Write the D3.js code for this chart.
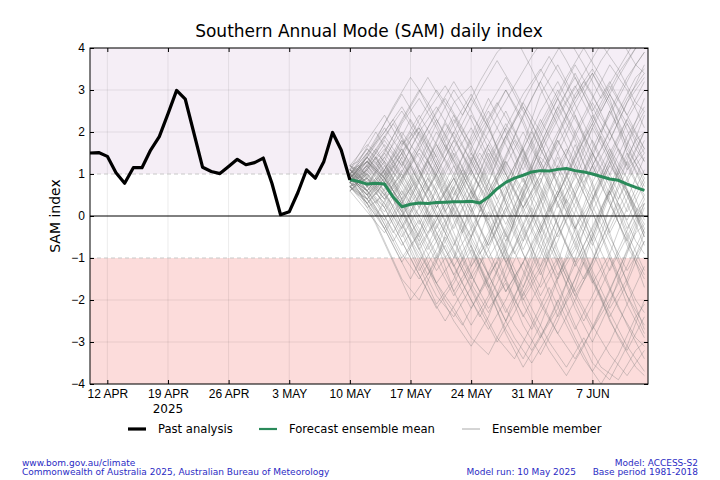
<!DOCTYPE html>
<html>
<head>
<meta charset="utf-8">
<script src="https://cdn.jsdelivr.net/npm/d3@7"></script>
<style>
  body { margin: 0; background: #fff; }
  svg { font-family: "DejaVu Sans", sans-serif; }
  .tick text { font-size: 12px; fill: #000; }
  .foot { font-size: 9px; fill: #2b2bc4; }
</style>
</head>
<body>
<div id="chart"></div>
<script>
const width = 720;
const height = 480;
const margin = { top: 48, right: 72, bottom: 96, left: 90 };

// daily past analysis, 10 Apr - 10 May 2025
const pastStart = new Date(2025, 3, 10);
const pastValues = [
  1.50, 1.51, 1.42, 1.03, 0.78, 1.15, 1.15, 1.57, 1.89, 2.43,
  2.99, 2.78, 1.97, 1.16, 1.06, 1.01, 1.18, 1.35, 1.22, 1.27,
  1.38, 0.78, 0.03, 0.10, 0.56, 1.10, 0.90, 1.30, 1.99, 1.57, 0.86
];

// daily ensemble mean, 10 May - 13 Jun 2025
const runDate = new Date(2025, 4, 10);
const meanValues = [
  0.87, 0.82, 0.76, 0.78, 0.76, 0.45, 0.22, 0.28, 0.31, 0.30,
  0.32, 0.33, 0.34, 0.34, 0.35, 0.31, 0.45, 0.65, 0.80, 0.90,
  0.97, 1.05, 1.08, 1.07, 1.11, 1.13, 1.08, 1.05, 1.00, 0.94,
  0.88, 0.85, 0.76, 0.68, 0.61
];

// ensemble members, read roughly: days after the run date for each group
const evenDays = [0, 2, 4, 6, 8, 10, 12, 14, 16, 18, 20, 22, 24, 26, 28, 30, 32, 34];
const oddDays = [0, 1, 3, 5, 7, 9, 11, 13, 15, 17, 19, 21, 23, 25, 27, 29, 31, 33, 34];

const membersEven = [
  [0.9, 1.4, 2.1, 1.5, 0.6, -0.4, -1.2, -0.5, 0.8, 1.9, 2.6, 1.8, 0.7, -0.3, 0.4, 1.5, 2.3, 1.6],
  [0.8, 0.3, -0.6, -1.5, -2.0, -1.1, 0.2, 1.0, 0.4, -0.8, -2.1, -2.9, -2.2, -1.0, 0.3, 1.2, 0.6, -0.5],
  [1.0, 1.6, 1.2, 0.4, 0.9, 1.8, 2.7, 3.1, 2.2, 1.0, 0.1, 0.8, 1.9, 2.9, 3.5, 2.8, 1.6, 0.9],
  [0.7, 0.2, 0.5, 1.3, 0.6, -0.6, -1.8, -2.6, -1.9, -0.7, 0.5, 1.4, 0.9, -0.2, -1.4, -2.5, -3.2, -2.4],
  [1.1, 1.8, 2.4, 1.7, 2.1, 1.2, 0.3, -0.6, -1.4, -0.8, 0.6, 1.9, 2.8, 3.6, 2.9, 2.0, 1.1, 1.6],
  [0.9, 0.5, -0.2, -1.0, -0.4, 0.7, 1.5, 0.8, -0.3, -1.5, -2.4, -1.6, -0.2, 1.0, 2.1, 2.9, 2.2, 1.3],
  [0.6, 1.0, 0.6, 1.2, 2.0, 2.6, 1.9, 1.0, 1.7, 2.5, 1.6, 0.4, -0.8, -1.8, -1.1, 0.2, 1.3, 2.4],
  [1.2, 0.7, 1.3, 0.4, -0.6, -1.6, -1.0, 0.3, 1.4, 2.2, 1.5, 0.2, -1.1, -2.2, -3.0, -2.1, -0.9, 0.2],
  [0.8, 1.3, 0.9, -0.1, -1.1, -1.9, -2.4, -1.7, -0.6, 0.6, 1.6, 2.5, 3.2, 2.4, 1.3, 0.4, -0.7, -1.5],
  [1.0, 0.4, 1.0, 1.8, 1.1, 0.2, 0.9, 1.9, 2.8, 2.0, 0.9, -0.2, 0.6, 1.7, 0.8, -0.4, -1.6, -2.7],
  [0.7, 1.2, 1.9, 2.5, 1.8, 0.9, 0.1, -0.9, -1.8, -2.7, -3.4, -2.6, -1.5, -0.3, 0.8, 1.6, 0.9, -0.1],
  [0.9, 0.6, 0.1, 0.8, 1.6, 1.0, -0.1, -1.2, -0.6, 0.5, 1.7, 2.9, 3.6, 2.8, 3.4, 2.6, 1.5, 0.6],
  [1.1, 0.8, 0.3, -0.5, 0.2, 1.1, 2.0, 2.8, 2.1, 1.2, 0.4, -0.5, -1.6, -2.6, -3.5, -3.9, -3.1, -2.0],
  [0.8, 1.5, 1.0, 0.2, -0.7, -0.1, 0.7, -0.3, -1.4, -2.3, -1.5, -0.4, 0.9, 2.0, 2.8, 3.6, 3.0, 2.1],
  [1.0, 0.6, 1.1, 0.5, 1.3, 2.2, 3.0, 2.3, 1.4, 0.3, -0.8, 0.1, 1.2, 0.4, -0.6, 0.5, 1.7, 2.8],
  [0.6, 0.1, -0.4, 0.3, -0.5, -1.3, -0.7, 0.5, 1.6, 0.9, -0.2, -1.3, -2.4, -1.7, -0.5, 0.6, -0.4, -1.3],
  [1.2, 1.7, 1.3, 2.2, 2.8, 2.1, 1.2, 0.2, -0.7, 0.2, 1.3, 2.3, 1.5, 0.5, 1.4, 2.5, 3.3, 3.9],
  [0.9, 0.3, 0.8, 0.1, -0.8, -1.7, -2.5, -3.1, -2.4, -1.3, -0.2, 0.8, 1.8, 1.0, 0.1, -1.0, -2.1, -2.9],
  [0.7, 1.1, 1.6, 1.0, 0.3, 1.0, 1.8, 1.1, 0.2, -0.9, -1.9, -1.2, 0.0, 1.1, 0.4, 1.3, 2.2, 1.5],
  [1.0, 0.5, -0.1, -0.9, -1.5, -0.8, 0.3, 1.3, 2.3, 3.0, 2.3, 1.3, 0.3, -0.7, -1.6, -0.9, 0.2, 1.1],
  [0.8, 1.2, 0.7, 1.4, 0.5, -0.3, 0.5, 1.4, 0.6, -0.5, 0.5, 1.7, 2.6, 1.8, 0.7, -0.4, 0.4, 1.4],
  [1.1, 0.7, 1.4, 2.0, 1.4, 0.6, -0.4, -1.4, -2.2, -1.6, -2.6, -3.3, -2.5, -1.5, -0.4, 0.7, 1.7, 2.5],
  [0.9, 1.4, 0.8, 0.0, 0.6, 1.5, 2.3, 1.6, 0.6, 1.4, 2.4, 3.2, 2.4, 1.5, 0.5, -0.5, -1.3, -0.6],
  [0.7, 0.4, 0.9, 0.3, -0.5, 0.3, -0.6, -1.5, -0.8, 0.2, -0.9, -1.9, -1.1, 0.1, 1.2, 2.0, 2.8, 3.4],
  [1.0, 1.5, 2.2, 2.9, 2.2, 1.4, 2.2, 2.9, 2.1, 1.1, 0.2, 0.9, -0.2, -1.2, -0.5, 0.6, -0.5, -1.7],
  [0.8, 0.4, -0.3, 0.4, 1.2, 0.6, -0.3, 0.6, 1.5, 0.7, -0.4, -1.4, -0.6, 0.5, 1.5, 0.8, -0.3, 0.5],
  [1.2, 0.9, 0.4, 1.1, 0.3, -0.5, -1.4, -0.7, -1.6, -2.5, -1.7, -0.6, 0.5, 1.5, 2.4, 1.6, 0.6, -0.4],
  [0.9, 1.3, 0.8, 1.5, 2.3, 3.0, 2.4, 1.5, 0.7, -0.2, 0.7, 1.6, 2.5, 3.4, 2.6, 1.8, 2.7, 3.6],
  [0.6, 0.9, 0.5, -0.3, -1.2, -2.1, -1.5, -0.5, 0.4, 1.3, 0.6, -0.4, -1.4, -0.7, 0.4, 1.3, 0.5, -0.5],
  [1.0, 0.6, 1.2, 0.6, -0.2, 0.6, 1.4, 2.1, 1.3, 0.3, -0.6, 0.4, 1.4, 0.5, -0.6, -1.7, -2.6, -3.4],
  [0.8, 1.1, 1.7, 1.2, 2.0, 1.3, 0.5, 1.3, 2.2, 3.0, 2.2, 1.2, 0.2, 0.9, 1.8, 1.0, 0.1, 0.9],
  [1.1, 0.6, 0.0, -0.7, -0.1, -0.9, -1.8, -1.1, 0.1, -0.8, -1.7, -0.8, 0.3, 1.2, 2.1, 1.3, 0.3, -0.7],
  [0.9, 1.4, 0.9, 0.3, 1.1, 0.3, 0.9, -0.1, -1.0, -0.3, 0.7, 1.6, 0.8, -0.3, -1.3, -2.2, -1.5, -0.4],
  [0.7, 0.3, 0.8, 1.5, 0.8, 1.6, 2.4, 1.7, 2.5, 1.7, 0.8, 1.7, 2.6, 3.3, 2.5, 3.2, 2.4, 1.6],
  [1.0, 1.3, 0.7, 0.1, -0.6, 0.2, 1.0, 0.2, -0.8, -1.8, -1.1, -2.0, -2.8, -3.4, -2.7, -1.8, -0.8, 0.3],
  [0.8, 0.5, 1.1, 1.7, 2.4, 1.7, 0.9, 0.1, 0.8, 1.8, 2.7, 2.0, 1.1, 0.2, -0.7, 0.2, 1.1, 2.0],
  [0.9, 1.2, 0.6, -0.2, -0.9, -1.6, -2.2, -2.9, -3.3, -2.5, -1.4, -0.3, 0.6, -0.4, -1.5, -2.4, -1.6, -0.6],
  [1.0, 0.7, 1.5, 2.3, 3.0, 2.2, 1.3, 0.4, 1.2, 2.1, 2.9, 3.5, 2.8, 1.9, 1.0, 1.8, 2.7, 3.3],
  [0.8, 1.1, 0.5, 1.0, 0.2, -0.6, 0.2, -0.7, -1.7, -2.8, -3.6, -2.9, -2.0, -2.9, -3.7, -3.0, -2.1, -1.2],
  [1.1, 1.6, 1.1, 1.8, 1.2, 2.0, 1.3, 0.6, -0.1, 0.7, -0.3, -1.2, -0.4, 0.6, 1.6, 2.5, 1.7, 0.8],
  [0.7, 0.4, -0.1, 0.6, 0.0, 0.8, 1.6, 2.4, 1.8, 1.0, 0.2, -0.7, -1.5, -0.8, 0.1, -0.9, -1.9, -2.8],
  [0.9, 1.3, 1.9, 1.3, 0.5, -0.2, -1.0, -0.3, 0.5, -0.4, -1.3, -2.1, -2.8, -2.0, -1.1, -0.1, 0.9, 1.8],
  [1.0, 0.5, 0.9, 0.3, 1.0, 1.7, 1.0, 1.8, 2.6, 3.3, 2.5, 1.6, 2.4, 3.1, 2.3, 1.4, 0.5, -0.4],
  [0.8, 1.0, 0.4, -0.4, -1.3, -0.6, -1.4, -2.2, -1.5, -0.6, 0.4, 1.3, 0.5, 1.4, 2.3, 3.1, 2.4, 3.2],
  [1.2, 0.8, 1.3, 0.8, 0.2, 1.0, 0.3, -0.5, 0.4, 1.2, 2.0, 1.2, 0.3, -0.6, -1.5, -2.3, -3.1, -3.7],
  [0.6, 1.0, 1.5, 0.9, 1.6, 2.3, 1.6, 0.7, -0.2, -1.1, -0.4, 0.5, 1.5, 2.4, 1.5, 0.5, 1.3, 0.4],
  [0.9, 0.6, 0.2, -0.6, -1.4, -2.2, -1.6, -0.8, -1.7, -0.9, 0.1, -0.8, -1.8, -2.7, -1.9, -1.0, -1.9, -2.6],
  [1.0, 1.4, 0.9, 1.6, 0.8, 0.1, -0.7, 0.1, 1.0, 1.9, 1.1, 2.0, 2.8, 2.0, 1.2, 0.3, -0.6, 0.3],
  [0.7, 0.9, 1.4, 0.7, -0.1, -1.0, -0.2, 0.6, -0.2, -1.1, -2.0, -1.3, -0.4, 0.5, -0.4, -1.3, -0.5, 0.4],
  [1.1, 0.7, 0.2, 0.9, 1.7, 2.5, 3.2, 2.5, 1.6, 0.8, 1.6, 0.7, -0.2, -1.1, -0.3, 0.6, 1.5, 0.7],
  [0.8, 1.3, 0.8, 0.1, 0.8, 0.0, -0.8, -1.6, -2.3, -1.5, -0.6, 0.3, 1.1, 1.9, 2.7, 2.0, 1.2, 2.0],
  [0.9, 0.5, 1.0, 1.6, 0.9, 0.2, 0.9, 0.1, -0.7, 0.1, 0.9, 0.1, -0.9, -1.8, -2.6, -3.3, -3.8, -3.2],
  [1.0, 1.5, 2.0, 2.6, 1.9, 1.1, 0.3, 1.1, 0.3, -0.6, 0.2, 1.0, 1.8, 1.0, 0.1, 1.0, 1.9, 2.6],
  [0.7, 0.3, -0.3, -1.1, -0.4, 0.4, 1.2, 0.4, 1.3, 2.1, 1.3, 0.4, -0.5, 0.3, 1.2, 0.3, -0.6, -1.4],
  [1.2, 1.0, 0.5, 0.0, -0.8, -0.1, 0.7, 1.5, 0.8, 0.0, -0.9, -1.7, -1.0, -1.9, -2.7, -2.0, -1.2, -0.3],
  [0.8, 1.2, 1.8, 1.2, 0.4, 1.2, 2.0, 1.3, 0.5, 1.3, 0.5, -0.4, 0.5, 1.4, 2.2, 1.4, 2.3, 3.0],
  [0.9, 0.6, 1.1, 0.4, -0.3, -1.1, -1.9, -1.2, -0.4, 0.5, 1.4, 2.2, 3.0, 2.3, 1.5, 0.7, -0.1, 0.8],
  [1.0, 1.3, 0.9, 1.5, 2.1, 1.4, 0.6, -0.2, -1.0, -1.8, -1.1, -0.2, -1.0, -1.9, -1.2, -0.3, 0.6, -0.3],
  [0.7, 0.9, 0.4, 0.9, 1.5, 0.8, 0.0, 0.8, 1.7, 1.0, 0.2, 1.0, 1.9, 2.7, 3.4, 2.7, 1.8, 1.0],
  [1.1, 0.8, 0.3, -0.3, 0.4, -0.4, -1.2, -2.0, -2.7, -2.0, -1.1, -0.3, 0.5, -0.3, 0.6, 1.4, 0.6, -0.2]
];

const membersOdd = [
  [0.9, 1.1, 1.8, 2.6, 3.3, 2.7, 1.9, 1.0, 0.2, 1.0, 1.9, 2.8, 3.6, 4.3, 3.6, 2.8, 3.5, 4.2, 4.0],
  [0.8, 0.6, -0.2, -1.1, -2.0, -1.4, -0.5, -1.3, -2.2, -3.0, -2.3, -1.4, -0.5, 0.4, -0.4, -1.3, -2.2, -2.9, -3.1],
  [1.0, 0.9, 0.3, 1.0, 1.8, 2.5, 3.1, 2.4, 3.2, 3.9, 4.3, 3.5, 2.6, 1.7, 0.8, 1.6, 2.5, 3.3, 3.5],
  [0.7, 0.8, 1.4, 0.6, -0.3, -1.2, -2.0, -2.6, -1.8, -0.9, 0.1, 1.0, 1.9, 2.7, 3.4, 4.1, 3.5, 2.7, 2.5],
  [1.1, 1.0, 0.4, -0.4, 0.4, 1.3, 0.6, -0.3, -1.2, -2.1, -2.9, -3.5, -2.8, -1.9, -1.1, -2.0, -2.9, -3.6, -3.8],
  [0.9, 1.1, 1.7, 2.3, 1.5, 0.6, 1.4, 2.2, 3.0, 3.7, 3.0, 2.2, 1.3, 2.1, 2.9, 3.7, 4.3, 3.6, 3.4],
  [0.8, 0.7, 0.1, -0.7, -1.5, -0.7, 0.2, 1.1, 0.3, -0.6, -1.5, -2.4, -3.2, -3.8, -3.1, -2.2, -1.3, -0.4, -0.2],
  [1.2, 1.3, 2.0, 1.3, 0.5, 1.3, 2.2, 1.5, 0.7, 1.5, 2.3, 3.1, 3.8, 3.1, 2.2, 1.3, 0.4, 1.2, 1.5],
  [0.7, 0.5, 0.9, 0.2, -0.6, -1.4, -0.7, -1.6, -2.4, -1.6, -0.7, 0.2, -0.7, -1.6, -2.5, -1.7, -0.8, 0.1, 0.3],
  [1.0, 1.2, 0.7, 1.5, 2.3, 1.6, 0.8, -0.1, -0.9, -0.1, 0.8, 1.7, 2.5, 3.3, 4.0, 3.3, 2.5, 1.6, 1.3],
  [0.9, 0.8, 1.3, 0.5, 1.2, 0.4, -0.4, -1.3, -2.1, -2.9, -3.4, -2.6, -1.7, -2.6, -3.4, -4.0, -3.3, -2.4, -2.1],
  [0.8, 1.0, 0.5, 1.2, 0.4, -0.4, 0.4, 1.2, 2.0, 2.7, 2.0, 1.1, 0.2, -0.7, -1.5, -0.6, 0.3, -0.6, -0.9],
  [1.1, 0.9, 0.2, -0.6, 0.1, 0.9, 1.7, 1.0, 0.1, 0.9, 1.8, 1.0, 0.1, 0.9, 1.8, 2.6, 3.4, 4.0, 4.2],
  [0.6, 0.8, 1.5, 2.2, 1.5, 0.7, -0.1, -1.0, -1.8, -1.1, -2.0, -2.7, -1.9, -1.0, -0.1, 0.8, 1.6, 0.8, 0.5],
  [1.0, 0.7, 1.2, 1.9, 2.6, 3.3, 2.6, 1.7, 0.9, 0.0, -0.9, -0.1, 0.8, 1.6, 0.7, -0.2, -1.1, -2.0, -2.3],
  [0.9, 1.1, 0.6, -0.2, -1.0, -1.8, -2.5, -1.8, -1.0, -1.8, -2.6, -3.2, -2.5, -1.6, -0.7, 0.2, 1.0, 1.8, 2.0],
  [0.8, 0.9, 1.6, 0.9, 0.1, 0.9, 0.1, 0.8, 1.6, 2.4, 3.1, 3.8, 4.4, 3.7, 2.9, 2.0, 2.8, 3.6, 3.9],
  [1.1, 1.2, 0.6, 1.3, 2.0, 1.3, 0.4, -0.4, 0.4, -0.5, -1.4, -2.2, -3.0, -3.6, -2.9, -3.6, -3.9, -3.2, -3.0],
  [0.7, 0.6, 0.0, 0.7, 1.4, 2.1, 2.8, 2.1, 1.3, 0.4, 1.2, 2.0, 1.2, 0.3, 1.1, 1.9, 1.1, 0.2, 0.0],
  [1.0, 0.9, 1.4, 0.7, 0.0, -0.8, -0.1, 0.7, 1.5, 0.8, 0.0, 0.8, 1.6, 2.4, 3.2, 2.5, 3.3, 4.0, 4.1]
];

const xTicks = [
  new Date(2025, 3, 12), new Date(2025, 3, 19), new Date(2025, 3, 26),
  new Date(2025, 4, 3), new Date(2025, 4, 10), new Date(2025, 4, 17),
  new Date(2025, 4, 24), new Date(2025, 4, 31), new Date(2025, 5, 7)
];
const yTicks = [-4, -3, -2, -1, 0, 1, 2, 3, 4];

const addDays = (d, n) => new Date(d.getFullYear(), d.getMonth(), d.getDate() + n);
const fmtTick = d3.timeFormat("%-d %b");
const minus = (v) => (v < 0 ? "\u2212" + Math.abs(v) : String(v));

const x = d3.scaleTime()
  .domain([pastStart, new Date(2025, 5, 13, 10)])
  .range([margin.left, width - margin.right]);
const y = d3.scaleLinear()
  .domain([-4, 4])
  .range([height - margin.bottom, margin.top]);

const svg = d3.select("#chart").append("svg")
  .attr("width", width)
  .attr("height", height);

svg.append("defs").append("clipPath").attr("id", "plot-clip")
  .append("rect")
  .attr("x", margin.left).attr("y", margin.top)
  .attr("width", width - margin.left - margin.right)
  .attr("height", height - margin.top - margin.bottom);

// shaded bands above +1 and below -1
svg.append("rect")
  .attr("x", margin.left).attr("width", width - margin.left - margin.right)
  .attr("y", y(4)).attr("height", y(1) - y(4))
  .attr("fill", "#f5eef6");
svg.append("rect")
  .attr("x", margin.left).attr("width", width - margin.left - margin.right)
  .attr("y", y(-1)).attr("height", y(-4) - y(-1))
  .attr("fill", "#fcdcdb");

// grid
const grid = svg.append("g").attr("stroke", "#000").attr("stroke-opacity", 0.08).attr("stroke-width", 1);
grid.selectAll(".vg").data(xTicks).join("line")
  .attr("x1", (d) => x(d)).attr("x2", (d) => x(d))
  .attr("y1", y(4)).attr("y2", y(-4));
grid.selectAll(".hg").data(yTicks.filter((v) => Math.abs(v) !== 1 && v !== 0)).join("line")
  .attr("x1", x.range()[0]).attr("x2", x.range()[1])
  .attr("y1", (d) => y(d)).attr("y2", (d) => y(d));

svg.append("g").selectAll("line").data([-1, 1]).join("line")
  .attr("x1", x.range()[0]).attr("x2", x.range()[1])
  .attr("y1", (d) => y(d)).attr("y2", (d) => y(d))
  .attr("stroke", "#c8c8c8").attr("stroke-dasharray", "4,3");

const plot = svg.append("g").attr("clip-path", "url(#plot-clip)");

const memberLine = (days) => d3.line()
  .x((d, i) => x(addDays(runDate, days[i])))
  .y((d) => y(d));
const drawMembers = (rows, days) => plot.append("g").selectAll("path").data(rows).join("path")
  .attr("d", memberLine(days))
  .attr("fill", "none")
  .attr("stroke", "#7c7c7c")
  .attr("stroke-opacity", 0.36)
  .attr("stroke-width", 1);
drawMembers(membersEven, evenDays);
drawMembers(membersOdd, oddDays);

svg.append("line")
  .attr("x1", x.range()[0]).attr("x2", x.range()[1])
  .attr("y1", y(0)).attr("y2", y(0))
  .attr("stroke", "#000").attr("stroke-width", 1);

const dailyLine = (start) => d3.line()
  .x((d, i) => x(addDays(start, i)))
  .y((d) => y(d));

plot.append("path")
  .datum(meanValues)
  .attr("d", dailyLine(runDate))
  .attr("fill", "none")
  .attr("stroke", "#2a8a5a")
  .attr("stroke-width", 3)
  .attr("stroke-linejoin", "round");

plot.append("path")
  .datum(pastValues)
  .attr("d", dailyLine(pastStart))
  .attr("fill", "none")
  .attr("stroke", "#000")
  .attr("stroke-width", 3.2)
  .attr("stroke-linejoin", "round");

// axes, ticks pointing inward on all four sides
svg.append("g")
  .attr("transform", `translate(0,${y(-4)})`)
  .call(d3.axisBottom(x).tickValues(xTicks).tickSizeInner(-4).tickSizeOuter(0)
    .tickPadding(5).tickFormat((d) => fmtTick(d).toUpperCase()));
svg.append("g")
  .attr("transform", `translate(0,${y(4)})`)
  .call(d3.axisTop(x).tickValues(xTicks).tickSizeInner(-4).tickSizeOuter(0).tickFormat(""));
svg.append("g")
  .attr("transform", `translate(${x.range()[0]},0)`)
  .call(d3.axisLeft(y).tickValues(yTicks).tickSizeInner(-4).tickSizeOuter(0)
    .tickPadding(5).tickFormat(minus));
svg.append("g")
  .attr("transform", `translate(${x.range()[1]},0)`)
  .call(d3.axisRight(y).tickValues(yTicks).tickSizeInner(-4).tickSizeOuter(0).tickFormat(""));
svg.selectAll(".domain").remove();

svg.append("rect")
  .attr("x", margin.left).attr("y", margin.top)
  .attr("width", width - margin.left - margin.right)
  .attr("height", height - margin.top - margin.bottom)
  .attr("fill", "none").attr("stroke", "#000").attr("stroke-width", 1);

svg.append("text")
  .attr("x", x(new Date(2025, 3, 19))).attr("y", 413)
  .attr("text-anchor", "middle").attr("font-size", 12)
  .text("2025");

svg.append("text")
  .attr("x", 369).attr("y", 37)
  .attr("text-anchor", "middle").attr("font-size", 17)
  .text("Southern Annual Mode (SAM) daily index");

svg.append("text")
  .attr("transform", `translate(60,${y(0)}) rotate(-90)`)
  .attr("text-anchor", "middle").attr("font-size", 14)
  .text("SAM index");

// legend
const legendItems = [
  { label: "Past analysis", x: 128, color: "#000", w: 3.2, op: 1 },
  { label: "Forecast ensemble mean", x: 259, color: "#2a8a5a", w: 2.2, op: 1 },
  { label: "Ensemble member", x: 462, color: "#8a8a8a", w: 0.9, op: 0.8 }
];
const legend = svg.append("g");
legendItems.forEach((d) => {
  legend.append("line")
    .attr("x1", d.x).attr("x2", d.x + 18).attr("y1", 429).attr("y2", 429)
    .attr("stroke", d.color).attr("stroke-width", d.w).attr("stroke-opacity", d.op);
  legend.append("text")
    .attr("x", d.x + 30).attr("y", 433)
    .attr("font-size", 11.6)
    .text(d.label);
});

// footer
const foot = svg.append("g");
foot.append("text").attr("class", "foot").attr("x", 22).attr("y", 466).text("www.bom.gov.au/climate");
foot.append("text").attr("class", "foot").attr("x", 22).attr("y", 475)
  .text("Commonwealth of Australia 2025, Australian Bureau of Meteorology");
foot.append("text").attr("class", "foot").attr("x", 698).attr("y", 466)
  .attr("text-anchor", "end").text("Model: ACCESS-S2");
foot.append("text").attr("class", "foot").attr("x", 576).attr("y", 475)
  .attr("text-anchor", "end").text("Model run: 10 May 2025");
foot.append("text").attr("class", "foot").attr("x", 698).attr("y", 475)
  .attr("text-anchor", "end").text("Base period 1981-2018");
</script>
</body>
</html>
